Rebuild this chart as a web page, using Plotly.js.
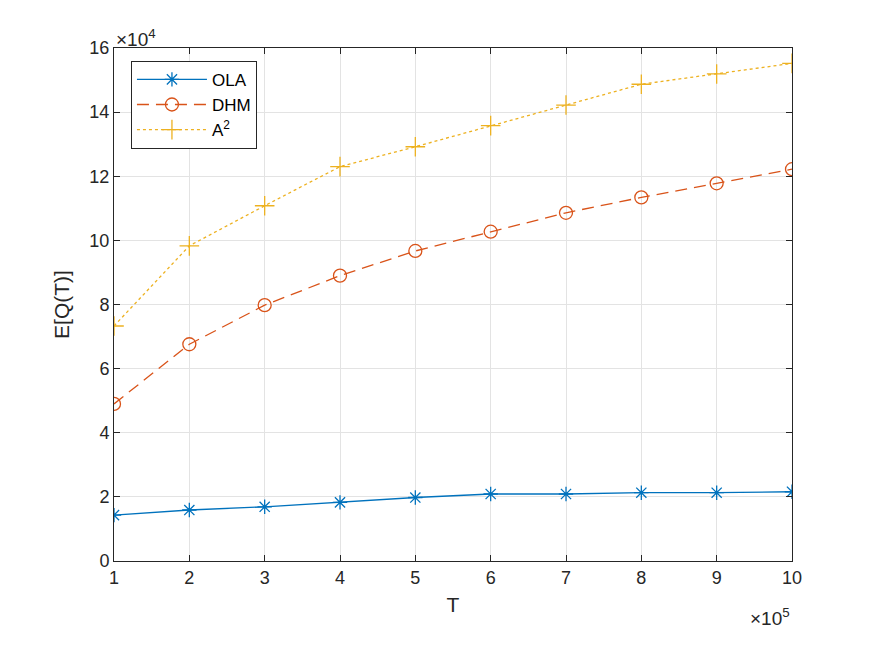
<!DOCTYPE html>
<html>
<head>
<meta charset="utf-8">
<script src="https://cdn.plot.ly/plotly-3.0.1.min.js"></script>
<style>html,body{margin:0;padding:0;background:#fff;}#plot{width:875px;height:657px;}</style>
</head>
<body>
<div id="plot"></div>
<script>
// Data (T raw, E[Q(T)] raw values)
const T = [100000, 200000, 300000, 400000, 500000, 600000, 700000, 800000, 900000, 1000000];
const OLA = [14300, 15900, 16900, 18300, 19800, 20900, 20900, 21300, 21300, 21600];
const DHM = [49000, 67600, 79800, 89000, 96700, 102700, 108600, 113400, 117800, 122200];
const A2  = [73300, 98300, 110800, 123000, 129200, 135800, 142200, 148700, 151900, 155200];
const xTickVals = [100000, 200000, 300000, 400000, 500000, 600000, 700000, 800000, 900000, 1000000];
const xTickText = ['1','2','3','4','5','6','7','8','9','10'];
const yTickVals = [0, 20000, 40000, 60000, 80000, 100000, 120000, 140000, 160000];
const yTickText = ['0','2','4','6','8','10','12','14','16'];

const font = 'Liberation Sans, Arial, Helvetica, sans-serif';
const traces = [
  {x: T, y: OLA, name: 'OLA', mode: 'lines+markers',
   line: {color: '#0072BD', width: 1.3},
   marker: {symbol: 'asterisk-open', size: 12, color: '#0072BD', line: {color: '#0072BD', width: 1.3}}},
  {x: T, y: DHM, name: 'DHM', mode: 'lines+markers',
   line: {color: '#D95319', width: 1.3, dash: '12px,7px'},
   marker: {symbol: 'circle-open', size: 13, color: '#D95319', line: {color: '#D95319', width: 1.3}}},
  {x: T, y: A2, name: 'A<sup>2</sup>', mode: 'lines+markers',
   line: {color: '#EDB120', width: 1.3, dash: 'dot'},
   marker: {symbol: 'cross-thin-open', size: 14, color: '#EDB120', line: {color: '#EDB120', width: 1.3}}}
];
const axisCommon = {
  showline: true, linecolor: '#262626', linewidth: 1, mirror: 'ticks',
  ticks: 'inside', ticklen: 6, tickcolor: '#262626', tickwidth: 1,
  showgrid: true, gridcolor: '#e3e3e3', gridwidth: 1, zeroline: false,
  tickfont: {family: font, size: 18, color: '#262626'}
};
const layout = {
  width: 875, height: 657,
  margin: {l: 114, r: 83, t: 48, b: 96},
  paper_bgcolor: '#fff', plot_bgcolor: '#fff',
  font: {family: font, color: '#262626'},
  showlegend: true,
  legend: {x: 0.025, y: 0.975, xanchor: 'left', yanchor: 'top',
    bordercolor: '#262626', borderwidth: 1, bgcolor: '#fff',
    font: {family: font, size: 17, color: '#000'}, tracegroupgap: 0, itemwidth: 70},
  xaxis: Object.assign({}, axisCommon, {range: [100000, 1000000], tickvals: xTickVals, ticktext: xTickText,
    title: {text: 'T', font: {family: font, size: 21, color: '#262626'}, standoff: 10}}),
  yaxis: Object.assign({}, axisCommon, {range: [0, 160000], tickvals: yTickVals, ticktext: yTickText,
    title: {text: 'E[Q(T)]', font: {family: font, size: 21, color: '#262626'}, standoff: 14}}),
  annotations: [
    {xref: 'paper', yref: 'paper', x: 0, y: 1, xanchor: 'left', yanchor: 'bottom', yshift: -4, showarrow: false,
     text: '×10<sup>4</sup>', font: {family: font, size: 19, color: '#262626'}},
    {xref: 'paper', yref: 'paper', x: 1, y: 0, xanchor: 'right', yanchor: 'top', yshift: -42, showarrow: false,
     text: '×10<sup>5</sup>', font: {family: font, size: 19, color: '#262626'}}
  ]
};
Plotly.newPlot('plot', traces, layout, {displayModeBar: false, staticPlot: true});
</script>
</body>
</html>
